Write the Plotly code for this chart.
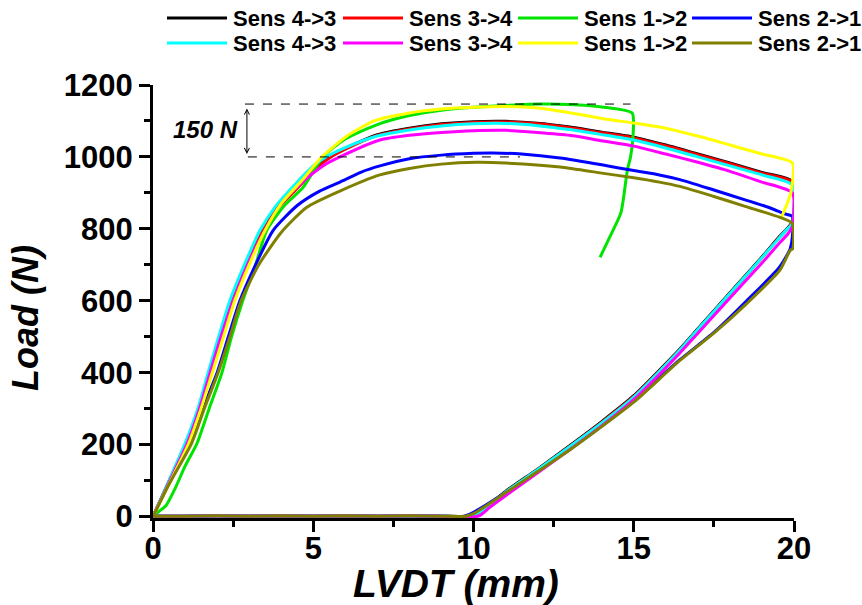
import plotly.graph_objects as go

# ---------------- data ----------------
names = ["Sens 4->3", "Sens 3->4", "Sens 1->2", "Sens 2->1",
         "Sens 4->3", "Sens 3->4", "Sens 1->2", "Sens 2->1"]
colors = ["#000000", "#FF0000", "#00E400", "#0000FF",
          "#00FFFF", "#FF00FF", "#FFFF00", "#808000"]

# flat return (load ~0) shared tail values
flat_x = [9.0, 8.0, 7.0, 6.0, 5.0, 4.0, 3.0, 2.0, 1.0, 0.0]
flat_y = [1, 2, 1, 2, 1, 2, 1, 2, 1, 1]

# Sens 4->3 (black)
blk_x = [0, 0.5, 1.02, 1.42, 1.75, 2.08, 2.43, 2.9, 3.4, 3.9, 4.4, 5.1, 5.5, 6.2, 7, 8, 9, 10, 11, 12, 13, 14, 15, 16, 17, 18, 19, 19.95,
         19.96, 19.8, 19.56, 19, 18, 17, 16.44, 15, 14, 13, 12, 11, 10.3, 9.9]
blk_y = [0, 98, 203, 300, 400, 500, 600, 700, 795, 862, 910, 975, 1000, 1032, 1062, 1080, 1092, 1098, 1099, 1094, 1083, 1069, 1055, 1033, 1008, 983, 957, 932,
         822, 802, 780, 722, 622, 522, 466, 336, 264, 197, 132, 70, 20, 2]
# Sens 3->4 (red)
red_x = [0, 0.5, 1.03, 1.43, 1.76, 2.1, 2.45, 2.92, 3.42, 3.92, 4.45, 5.15, 5.55, 6.2, 7, 8, 9, 10, 11, 12, 13, 14, 15, 16, 17, 18, 19, 19.95,
         19.96, 19.8, 19.56, 19, 18, 17, 16.44, 15, 14, 13, 12, 11, 10.3, 9.95]
red_y = [0, 97, 203, 300, 400, 500, 600, 700, 795, 860, 908, 973, 1000, 1030, 1060, 1078, 1090, 1096, 1097, 1092, 1081, 1067, 1053, 1031, 1006, 981, 955, 930,
         820, 800, 778, 720, 620, 520, 464, 334, 262, 195, 130, 68, 18, 2]
# Sens 1->2 (green)
grn_x = [0, 0.2, 0.4, 0.7, 1.0, 1.37, 1.75, 2.15, 2.45, 2.8, 3.2, 3.55, 4.1, 4.68, 5.3, 6, 7, 8, 9, 10, 11, 12, 13, 14, 14.95,
         14.97, 14.9, 14.8, 14.6, 14.25, 13.95]
grn_y = [0, 15, 30, 80, 140, 203, 300, 400, 500, 600, 700, 796, 865, 915, 1000, 1050, 1090, 1115, 1130, 1138, 1143, 1147, 1146, 1139, 1122,
         1050, 1000, 963, 845, 777, 721]
# Sens 2->1 (blue)
blu_x = [0, 0.5, 1.1, 1.55, 2.0, 2.35, 2.71, 3.2, 3.75, 4.5, 5.2, 5.83, 6.5, 7.08, 8, 9, 10, 10.6, 11.5, 12.7, 14, 15, 15.8, 16.44, 17.5, 18.5, 19.2, 19.7, 19.95,
         19.96, 19.88, 19.56, 18.5, 17.5, 16.44, 15, 14, 13, 12, 11, 10, 9.7]
blu_y = [0, 95, 200, 300, 400, 500, 600, 700, 796, 865, 905, 930, 958, 975, 995, 1005, 1010, 1011, 1008, 997, 978, 962, 950, 937, 908, 880, 860, 842, 835,
         790, 745, 695, 598, 512, 436, 322, 252, 187, 127, 67, 12, 1]
# Sens 4->3 (cyan)
cyn_x = [0, 0.5, 1.0, 1.4, 1.72, 2.05, 2.4, 2.85, 3.34, 3.8, 4.27, 5.0, 5.4, 6, 7, 8, 9, 10, 11, 12, 13, 14, 15, 16, 17, 18, 19, 19.95,
         19.96, 19.8, 19.56, 19, 18, 17, 16.44, 15, 14, 13, 12, 11, 10.3, 9.9]
cyn_y = [0, 100, 203, 300, 400, 500, 601, 700, 796, 860, 908, 975, 1000, 1026, 1058, 1075, 1086, 1092, 1093, 1087, 1076, 1062, 1047, 1025, 1000, 975, 950, 922,
         818, 800, 777, 720, 620, 520, 463, 332, 260, 194, 130, 68, 18, 2]
# Sens 3->4 (magenta)
mag_x = [0, 0.5, 1.05, 1.45, 1.78, 2.12, 2.5, 2.95, 3.45, 4.0, 4.6, 5.3, 5.83, 7.08, 8, 9, 10, 11, 12, 13, 14, 15, 16, 17, 18, 19, 19.95,
         19.96, 19.8, 19.56, 19, 18, 17, 16.44, 15, 14, 13, 12, 11, 10.5, 10.15]
mag_y = [0, 95, 200, 300, 400, 500, 600, 700, 790, 870, 925, 975, 1000, 1047, 1060, 1068, 1073, 1074, 1068, 1060, 1045, 1030, 1008, 985, 960, 930, 900,
         810, 785, 762, 705, 608, 510, 455, 325, 252, 186, 122, 58, 25, 1]
# Sens 1->2 (yellow)
yel_x = [0, 0.5, 1.1, 1.5, 1.85, 2.2, 2.55, 3.0, 3.5, 4.0, 4.7, 5.27, 6, 6.9, 8, 9, 10, 11, 12, 13, 14, 15, 16, 17, 18, 19, 19.95,
         19.9, 19.6]
yel_y = [0, 90, 200, 300, 400, 500, 600, 700, 796, 870, 940, 1000, 1055, 1100, 1122, 1133, 1138, 1140, 1136, 1123, 1107, 1094, 1080, 1058, 1033, 1008, 983,
         900, 830]
# Sens 2->1 (olive)
olv_x = [0, 0.5, 1.2, 1.6, 2.03, 2.4, 2.75, 3.3, 4.0, 4.8, 5.83, 7.08, 8, 9, 10.1, 11, 12.7, 14, 15, 15.8, 16.44, 17.5, 18.5, 19.56, 19.95,
         19.96, 19.88, 19.56, 18.5, 17.5, 16.44, 15, 14, 13, 12, 11, 10.5, 10, 9.75]
olv_y = [0, 90, 203, 300, 400, 500, 600, 700, 790, 860, 905, 950, 968, 980, 985, 983, 972, 955, 942, 930, 918, 890, 862, 832, 815,
         745, 740, 685, 590, 510, 434, 318, 250, 185, 125, 66, 36, 8, 1]

xs = [blk_x, red_x, grn_x, blu_x, cyn_x, mag_x, yel_x, olv_x]
ys = [blk_y, red_y, grn_y, blu_y, cyn_y, mag_y, yel_y, olv_y]
has_flat = [True, True, False, True, True, True, False, True]

# reference levels for the "150 N" annotation
ref_levels = [1147, 1000]
ref_x0 = [2.87, 2.96]
ref_x1 = [14.9, 11.45]
arrow_x = 2.93
delta_label = "150 N"

x_label = "LVDT (mm)"
y_label = "Load (N)"

# ---------------- layout helpers ----------------
W, H = 862, 605
ML, MR, MT, MB = 153, 68, 85, 87
PW, PH = W - ML - MR, H - MT - MB


def px(x):
    return (x - ML) / PW


def py(y):
    return 1 - (y - MT) / PH


FONT = "Liberation Sans, Arial, sans-serif"

fig = go.Figure()
for i in range(8):
    x = list(xs[i]) + (flat_x if has_flat[i] else [])
    y = list(ys[i]) + (flat_y if has_flat[i] else [])
    fig.add_trace(go.Scatter(x=x, y=y, mode="lines", name=names[i],
                             line=dict(color=colors[i], width=3, shape="spline", smoothing=0.6),
                             showlegend=False))

shapes = []
annotations = []
for lvl, a, b in zip(ref_levels, ref_x0, ref_x1):
    shapes.append(dict(type="line", xref="x", yref="y", x0=a, x1=b, y0=lvl, y1=lvl,
                       line=dict(color="black", width=1, dash="dash")))
annotations.append(dict(x=arrow_x, y=ref_levels[1] + 8, ax=arrow_x, ay=ref_levels[0] - 8,
                        xref="x", yref="y", axref="x", ayref="y", text="",
                        showarrow=True, arrowhead=5, arrowside="end+start",
                        arrowwidth=1, arrowsize=1, arrowcolor="black"))
annotations.append(dict(x=2.7, y=1075, xref="x", yref="y", text=delta_label,
                        showarrow=False, xanchor="right", yanchor="middle",
                        font=dict(family=FONT, size=24, color="black",
                                  weight="bold", style="italic")))

# manual legend (2 rows x 4)
col_px = [167, 343, 518, 692]
row_py = [18, 43]
for i, nm in enumerate(names):
    r, c = divmod(i, 4)
    x0 = col_px[c]
    yy = py(row_py[r])
    shapes.append(dict(type="line", xref="paper", yref="paper",
                       x0=px(x0), x1=px(x0 + 60), y0=yy, y1=yy,
                       line=dict(color=colors[i], width=3)))
    annotations.append(dict(x=px(x0 + 64), y=yy, xref="paper", yref="paper",
                            text=nm, showarrow=False, xanchor="left", yanchor="middle",
                            font=dict(family=FONT, size=22, color="black", weight="bold")))

# axis titles
annotations.append(dict(x=px(456), y=py(583), xref="paper", yref="paper", text=x_label,
                        showarrow=False, xanchor="center", yanchor="middle",
                        font=dict(family=FONT, size=39, color="black",
                                  weight="bold", style="italic")))
annotations.append(dict(x=px(25), y=py(318), xref="paper", yref="paper", text=y_label,
                        showarrow=False, xanchor="center", yanchor="middle", textangle=-90,
                        font=dict(family=FONT, size=36, color="black",
                                  weight="bold", style="italic")))

axis_common = dict(showgrid=False, zeroline=False, showline=True, linecolor="black",
                   linewidth=3, ticks="outside", tickwidth=3, ticklen=11,
                   tickcolor="black", mirror=False,
                   tickfont=dict(family=FONT, size=31, color="black", weight="bold"))

fig.update_layout(
    width=W, height=H,
    margin=dict(l=ML, r=MR, t=MT, b=MB, autoexpand=False),
    paper_bgcolor="white", plot_bgcolor="white",
    showlegend=False,
    shapes=shapes, annotations=annotations,
    xaxis=dict(range=[0, 20], tick0=0, dtick=5, ticklabelstandoff=-10,
               minor=dict(ticks="outside", dtick=2.5, ticklen=6, tickwidth=3, tickcolor="black"),
               **axis_common),
    yaxis=dict(range=[-4, 1200], tick0=0, dtick=200,
               minor=dict(ticks="outside", dtick=100, ticklen=6, tickwidth=3, tickcolor="black"),
               **axis_common),
)

fig.write_html("out.html", config={"displayModeBar": False},
               post_script="document.body.style.margin='0';document.body.style.overflow='hidden';")
